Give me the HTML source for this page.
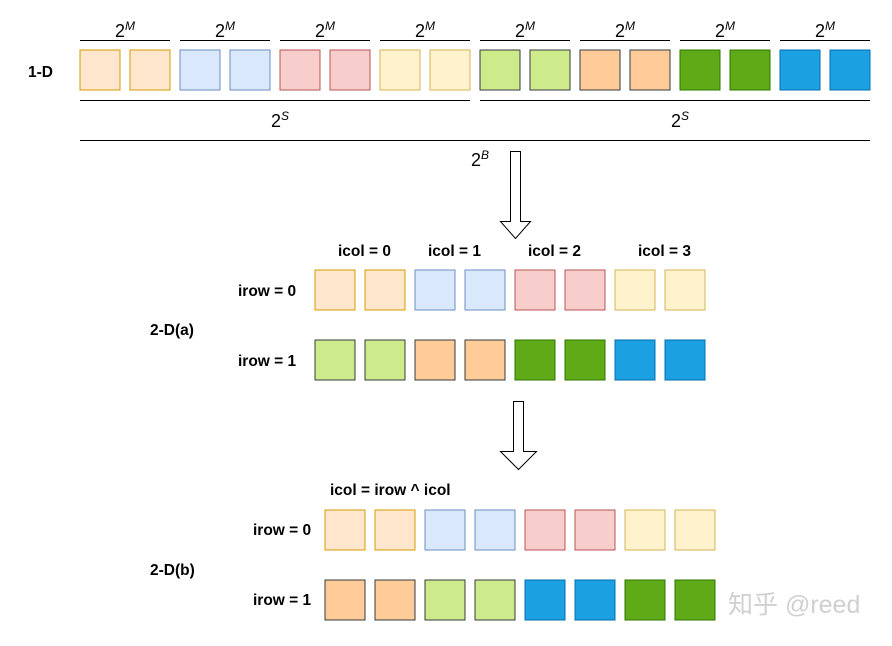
<!DOCTYPE html>
<html><head><meta charset="utf-8"><style>
body{margin:0;background:#fff}
svg text{font-family:"Liberation Sans","Noto Sans CJK SC",sans-serif}
</style></head><body>
<svg width="892" height="641" viewBox="0 0 892 641" xmlns="http://www.w3.org/2000/svg">
<defs>
<rect id="c0" width="40" height="40" fill="#ffe6cc" stroke="#d79b00"/>
<rect id="c1" width="40" height="40" fill="#dae8fc" stroke="#6c8ebf"/>
<rect id="c2" width="40" height="40" fill="#f8cecc" stroke="#b85450"/>
<rect id="c3" width="40" height="40" fill="#fff2cc" stroke="#d6b656"/>
<rect id="c4" width="40" height="40" fill="#cdeb8b" stroke="#36393d"/>
<rect id="c5" width="40" height="40" fill="#ffcc99" stroke="#36393d"/>
<rect id="c6" width="40" height="40" fill="#60a917" stroke="#2d7600"/>
<rect id="c7" width="40" height="40" fill="#1ba1e2" stroke="#006eaf"/>
</defs>
<g stroke="#000" stroke-width="1">
<line x1="80" y1="40.5" x2="170" y2="40.5"/><line x1="180" y1="40.5" x2="270" y2="40.5"/>
<line x1="280" y1="40.5" x2="370" y2="40.5"/><line x1="380" y1="40.5" x2="470" y2="40.5"/>
<line x1="480" y1="40.5" x2="570" y2="40.5"/><line x1="580" y1="40.5" x2="670" y2="40.5"/>
<line x1="680" y1="40.5" x2="770" y2="40.5"/><line x1="780" y1="40.5" x2="870" y2="40.5"/>
<line x1="80" y1="100.5" x2="470" y2="100.5"/><line x1="480" y1="100.5" x2="870" y2="100.5"/>
<line x1="80" y1="140.5" x2="870" y2="140.5"/>
</g>
<g font-size="18" text-anchor="middle">
<text x="125" y="37">2<tspan font-size="12" dy="-7" font-style="italic">M</tspan></text>
<text x="225" y="37">2<tspan font-size="12" dy="-7" font-style="italic">M</tspan></text>
<text x="325" y="37">2<tspan font-size="12" dy="-7" font-style="italic">M</tspan></text>
<text x="425" y="37">2<tspan font-size="12" dy="-7" font-style="italic">M</tspan></text>
<text x="525" y="37">2<tspan font-size="12" dy="-7" font-style="italic">M</tspan></text>
<text x="625" y="37">2<tspan font-size="12" dy="-7" font-style="italic">M</tspan></text>
<text x="725" y="37">2<tspan font-size="12" dy="-7" font-style="italic">M</tspan></text>
<text x="825" y="37">2<tspan font-size="12" dy="-7" font-style="italic">M</tspan></text>
<text x="280" y="127">2<tspan font-size="12" dy="-7" font-style="italic">S</tspan></text>
<text x="680" y="127">2<tspan font-size="12" dy="-7" font-style="italic">S</tspan></text>
<text x="480" y="166">2<tspan font-size="12" dy="-7" font-style="italic">B</tspan></text>
</g>
<g font-weight="bold" font-size="15.5">
<text x="28" y="77">1-D</text>
<text x="150" y="335">2-D(a)</text>
<text x="150" y="575">2-D(b)</text>
<text x="238" y="296">irow = 0</text>
<text x="238" y="366">irow = 1</text>
<text x="253" y="535">irow = 0</text>
<text x="253" y="605">irow = 1</text>
<text x="338" y="256">icol = 0</text>
<text x="428" y="256">icol = 1</text>
<text x="528" y="256">icol = 2</text>
<text x="638" y="256">icol = 3</text>
<text x="330" y="495">icol = irow ^ icol</text>
</g>
<g transform="translate(80,50)">
<use href="#c0" x="0"/><use href="#c0" x="50"/><use href="#c1" x="100"/><use href="#c1" x="150"/>
<use href="#c2" x="200"/><use href="#c2" x="250"/><use href="#c3" x="300"/><use href="#c3" x="350"/>
<use href="#c4" x="400"/><use href="#c4" x="450"/><use href="#c5" x="500"/><use href="#c5" x="550"/>
<use href="#c6" x="600"/><use href="#c6" x="650"/><use href="#c7" x="700"/><use href="#c7" x="750"/>
</g>
<g transform="translate(315,270)">
<use href="#c0" x="0"/><use href="#c0" x="50"/><use href="#c1" x="100"/><use href="#c1" x="150"/>
<use href="#c2" x="200"/><use href="#c2" x="250"/><use href="#c3" x="300"/><use href="#c3" x="350"/>
</g>
<g transform="translate(315,340)">
<use href="#c4" x="0"/><use href="#c4" x="50"/><use href="#c5" x="100"/><use href="#c5" x="150"/>
<use href="#c6" x="200"/><use href="#c6" x="250"/><use href="#c7" x="300"/><use href="#c7" x="350"/>
</g>
<g transform="translate(325,510)">
<use href="#c0" x="0"/><use href="#c0" x="50"/><use href="#c1" x="100"/><use href="#c1" x="150"/>
<use href="#c2" x="200"/><use href="#c2" x="250"/><use href="#c3" x="300"/><use href="#c3" x="350"/>
</g>
<g transform="translate(325,580)">
<use href="#c5" x="0"/><use href="#c5" x="50"/><use href="#c4" x="100"/><use href="#c4" x="150"/>
<use href="#c7" x="200"/><use href="#c7" x="250"/><use href="#c6" x="300"/><use href="#c6" x="350"/>
</g>
<path d="M510.5 151.5 H520.5 V221.5 H530.5 L515.5 238.5 L500.5 221.5 H510.5 Z" fill="#fff" stroke="#000"/>
<path d="M513.5 401.5 H523.5 V451.5 H536.5 L518.5 469.5 L500.5 451.5 H513.5 Z" fill="#fff" stroke="#000"/>
<text x="728" y="613" font-size="25" fill="#d0d0d0">知乎 @reed</text>
</svg>
</body></html>
